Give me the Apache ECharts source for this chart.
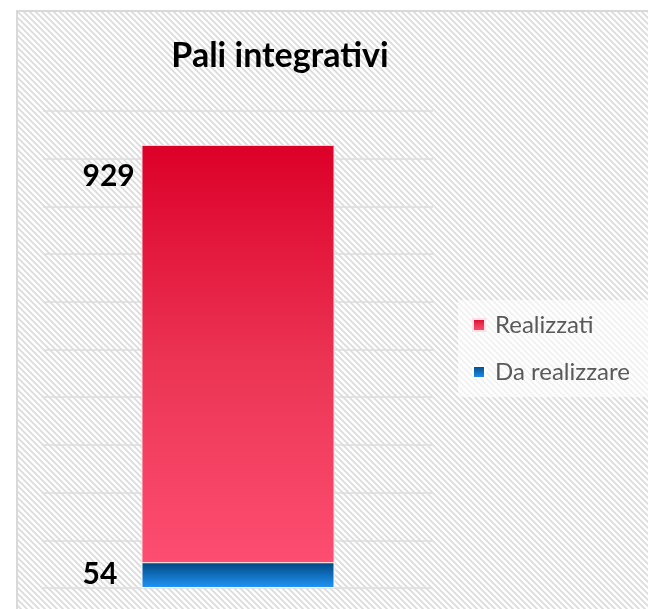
<!DOCTYPE html>
<html>
<head>
<meta charset="utf-8">
<script src="https://cdn.jsdelivr.net/npm/echarts@6/dist/echarts.min.js"></script>
<style>
html,body{margin:0;padding:0;background:#fff;overflow:hidden;}
#c{width:648px;height:609px;}
</style>
</head>
<body>
<div id="c"></div>
<script>
const categories = ['Pali integrativi'];
const realizzati = [929];
const daRealizzare = [54];
const seriesNames = ['Realizzati', 'Da realizzare'];

function makeHatch() {
  const s = 6;
  const cv = document.createElement('canvas');
  cv.width = s; cv.height = s;
  const ctx = cv.getContext('2d');
  ctx.fillStyle = '#ffffff';
  ctx.fillRect(0, 0, s, s);
  ctx.strokeStyle = '#dadada';
  ctx.lineWidth = 1.6;
  ctx.beginPath();
  ctx.moveTo(-1, -1); ctx.lineTo(s + 1, s + 1);
  ctx.moveTo(-1, s - 1); ctx.lineTo(1, s + 1);
  ctx.moveTo(s - 1, -1); ctx.lineTo(s + 1, 1);
  ctx.stroke();
  return cv;
}

const chart = echarts.init(document.getElementById('c'), null, {renderer: 'canvas'});
const option = {
  backgroundColor: '#ffffff',
  animation: false,
  title: {
    text: categories[0],
    left: 275, textAlign: 'center',
    top: 34,
    textStyle: {fontFamily: 'Lato', fontWeight: 'bold', fontSize: 34, color: '#000'}
  },
  graphic: [
    {
      type: 'rect', z: -10, silent: true,
      shape: {x: 17, y: 11, width: 640, height: 610},
      style: {fill: {image: makeHatch(), repeat: 'repeat'}}
    },
    {
      type: 'polyline', z: -9, silent: true,
      shape: {points: [[17, 612], [17, 11], [652, 11]]},
      style: {fill: null, stroke: '#d9d9d9', lineWidth: 2}
    }
  ],
  legend: {
    data: seriesNames,
    orient: 'vertical',
    left: 458, top: 300,
    padding: [13, 30, 13, 14],
    itemGap: 23,
    itemWidth: 12, itemHeight: 12,
    icon: 'rect',
    backgroundColor: 'rgba(255,255,255,0.6)',
    textStyle: {fontFamily: 'Lato', fontSize: 24, color: '#595959', padding: [0, 0, 0, 5]}
  },
  grid: {left: 43, right: 215, top: 111, bottom: 21, containLabel: false},
  xAxis: {
    type: 'category', data: categories,
    axisLine: {show: false}, axisTick: {show: false}, axisLabel: {show: false}
  },
  yAxis: {
    type: 'value', min: 0, max: 1000, interval: 100,
    axisLine: {show: false}, axisTick: {show: false}, axisLabel: {show: false},
    splitLine: {lineStyle: {color: '#dcdcdc', width: 1.5}}
  },
  series: [
    {
      name: seriesNames[0], type: 'bar', data: realizzati,
      barWidth: '49.5%', barGap: '-100%',
      itemStyle: {
        borderColor: '#ffe0e6', borderWidth: 1,
        color: new echarts.graphic.LinearGradient(0, 0, 0, 1, [
          {offset: 0, color: '#dc0028'},
          {offset: 0.5, color: '#ec3555'},
          {offset: 1, color: '#ff5174'}
        ])
      },
      label: {
        show: true, position: [-59, 31], verticalAlign: 'middle', align: 'left',
        fontFamily: 'Lato', fontWeight: 'bold', fontSize: 30, color: '#000'
      }
    },
    {
      name: seriesNames[1], type: 'bar', data: daRealizzare,
      barWidth: '49.5%', barGap: '-100%',
      itemStyle: {
        borderColor: '#ffffff', borderWidth: 1,
        color: new echarts.graphic.LinearGradient(0, 0, 0, 1, [
          {offset: 0, color: '#00467f'},
          {offset: 1, color: '#2196f8'}
        ])
      },
      label: {
        show: true, position: [-59, 12], verticalAlign: 'middle', align: 'left',
        fontFamily: 'Lato', fontWeight: 'bold', fontSize: 30, color: '#000'
      }
    }
  ]
};
chart.setOption(option);
</script>
</body>
</html>
